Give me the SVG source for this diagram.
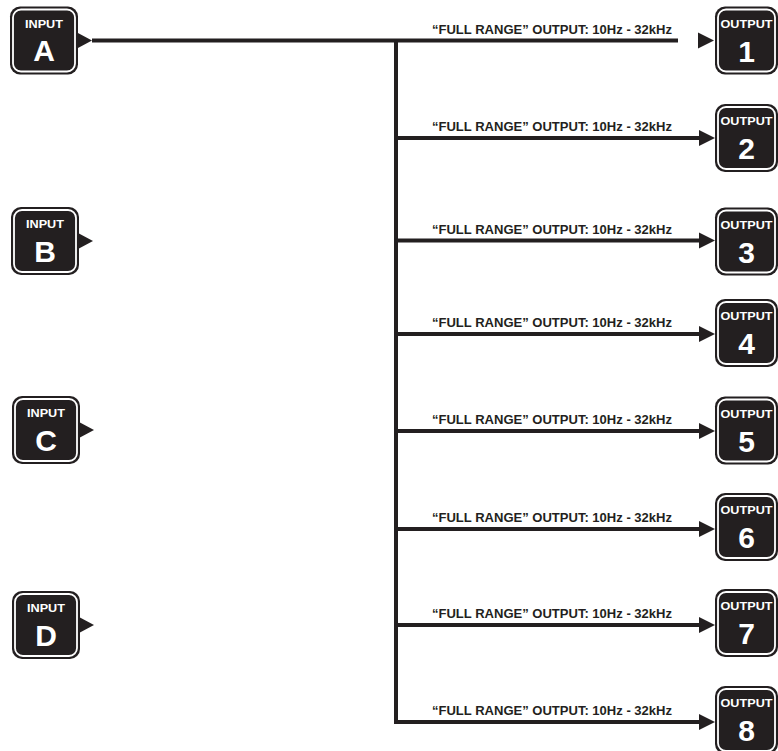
<svg xmlns="http://www.w3.org/2000/svg" width="778" height="751" viewBox="0 0 778 751">
<style>
.outer{fill:#231f20;}
.inner{fill:#231f20;stroke:#ffffff;stroke-width:1.8;}
.lbl{fill:#ffffff;font-family:"Liberation Sans",Arial,sans-serif;font-weight:bold;font-size:11px;text-anchor:middle;}
.big{fill:#ffffff;font-family:"Liberation Sans",Arial,sans-serif;font-weight:bold;font-size:30px;text-anchor:middle;}
.wire{stroke:#231f20;stroke-width:4;fill:none;}
.tri{fill:#231f20;}
.cap{fill:#231f20;font-family:"Liberation Sans",Arial,sans-serif;font-weight:bold;font-size:12.5px;}
</style>
<defs>
<g id="inbox">
<rect class="outer" x="0" y="-34" width="68" height="68" rx="10"/>
<rect class="inner" x="3" y="-31" width="62" height="62" rx="8"/>
<path class="tri" d="M67,-8 L82,0 L67,8 Z"/>
</g>
<g id="outbox">
<rect class="outer" x="0" y="-34" width="63" height="68" rx="10"/>
<rect class="inner" x="3" y="-31" width="57" height="62" rx="8"/>
</g>
</defs>

<g id="connectors">
<path class="wire" d="M92,40.5 H678"/>
<path class="wire" d="M396,40.5 V722 H701"/>
<path class="wire" d="M396,138 H701 M396,240.5 H701 M396,334 H701 M396,431 H701 M396,529 H701 M396,625 H701"/>
<path class="tri" d="M698,32.5 L714,40.5 L698,48.5 Z"/>
<path class="tri" d="M699,130 L715,138 L699,146 Z"/>
<path class="tri" d="M699,232.5 L715,240.5 L699,248.5 Z"/>
<path class="tri" d="M699,326 L715,334 L699,342 Z"/>
<path class="tri" d="M699,423 L715,431 L699,439 Z"/>
<path class="tri" d="M699,521 L715,529 L699,537 Z"/>
<path class="tri" d="M699,617 L715,625 L699,633 Z"/>
<path class="tri" d="M699,714 L715,722 L699,730 Z"/>
<text class="cap" x="432" y="34" textLength="240" lengthAdjust="spacingAndGlyphs">“FULL RANGE” OUTPUT:  10Hz - 32kHz</text>
<text class="cap" x="432" y="131" textLength="240" lengthAdjust="spacingAndGlyphs">“FULL RANGE” OUTPUT:  10Hz - 32kHz</text>
<text class="cap" x="432" y="233.5" textLength="240" lengthAdjust="spacingAndGlyphs">“FULL RANGE” OUTPUT:  10Hz - 32kHz</text>
<text class="cap" x="432" y="327" textLength="240" lengthAdjust="spacingAndGlyphs">“FULL RANGE” OUTPUT:  10Hz - 32kHz</text>
<text class="cap" x="432" y="424" textLength="240" lengthAdjust="spacingAndGlyphs">“FULL RANGE” OUTPUT:  10Hz - 32kHz</text>
<text class="cap" x="432" y="522" textLength="240" lengthAdjust="spacingAndGlyphs">“FULL RANGE” OUTPUT:  10Hz - 32kHz</text>
<text class="cap" x="432" y="618" textLength="240" lengthAdjust="spacingAndGlyphs">“FULL RANGE” OUTPUT:  10Hz - 32kHz</text>
<text class="cap" x="432" y="715" textLength="240" lengthAdjust="spacingAndGlyphs">“FULL RANGE” OUTPUT:  10Hz - 32kHz</text>
</g>

<g id="input-a" transform="translate(10,40.5)">
<use href="#inbox"/>
<text class="lbl" x="34" y="-13" textLength="38" lengthAdjust="spacingAndGlyphs">INPUT</text>
<text class="big" x="34" y="20">A</text>
</g>
<g id="input-b" transform="translate(11,241)">
<use href="#inbox"/>
<text class="lbl" x="34" y="-13" textLength="38" lengthAdjust="spacingAndGlyphs">INPUT</text>
<text class="big" x="34" y="21">B</text>
</g>
<g id="input-c" transform="translate(12,430)">
<use href="#inbox"/>
<text class="lbl" x="34" y="-13" textLength="38" lengthAdjust="spacingAndGlyphs">INPUT</text>
<text class="big" x="34" y="21">C</text>
</g>
<g id="input-d" transform="translate(12,625)">
<use href="#inbox"/>
<text class="lbl" x="34" y="-13" textLength="38" lengthAdjust="spacingAndGlyphs">INPUT</text>
<text class="big" x="34" y="21">D</text>
</g>

<g id="output-1" transform="translate(715,40.5)">
<use href="#outbox"/>
<text class="lbl" x="31.5" y="-13" textLength="52" lengthAdjust="spacingAndGlyphs">OUTPUT</text>
<text class="big" x="31.5" y="21">1</text>
</g>
<g id="output-2" transform="translate(715,138)">
<use href="#outbox"/>
<text class="lbl" x="31.5" y="-13" textLength="52" lengthAdjust="spacingAndGlyphs">OUTPUT</text>
<text class="big" x="31.5" y="21">2</text>
</g>
<g id="output-3" transform="translate(715,241.5)">
<use href="#outbox"/>
<text class="lbl" x="31.5" y="-13" textLength="52" lengthAdjust="spacingAndGlyphs">OUTPUT</text>
<text class="big" x="31.5" y="21">3</text>
</g>
<g id="output-4" transform="translate(715,333)">
<use href="#outbox"/>
<text class="lbl" x="31.5" y="-13" textLength="52" lengthAdjust="spacingAndGlyphs">OUTPUT</text>
<text class="big" x="31.5" y="21">4</text>
</g>
<g id="output-5" transform="translate(715,430.5)">
<use href="#outbox"/>
<text class="lbl" x="31.5" y="-13" textLength="52" lengthAdjust="spacingAndGlyphs">OUTPUT</text>
<text class="big" x="31.5" y="21">5</text>
</g>
<g id="output-6" transform="translate(715,527)">
<use href="#outbox"/>
<text class="lbl" x="31.5" y="-13" textLength="52" lengthAdjust="spacingAndGlyphs">OUTPUT</text>
<text class="big" x="31.5" y="21">6</text>
</g>
<g id="output-7" transform="translate(715,623)">
<use href="#outbox"/>
<text class="lbl" x="31.5" y="-13" textLength="52" lengthAdjust="spacingAndGlyphs">OUTPUT</text>
<text class="big" x="31.5" y="21">7</text>
</g>
<g id="output-8" transform="translate(715,720)">
<use href="#outbox"/>
<text class="lbl" x="31.5" y="-13" textLength="52" lengthAdjust="spacingAndGlyphs">OUTPUT</text>
<text class="big" x="31.5" y="21">8</text>
</g>
</svg>
